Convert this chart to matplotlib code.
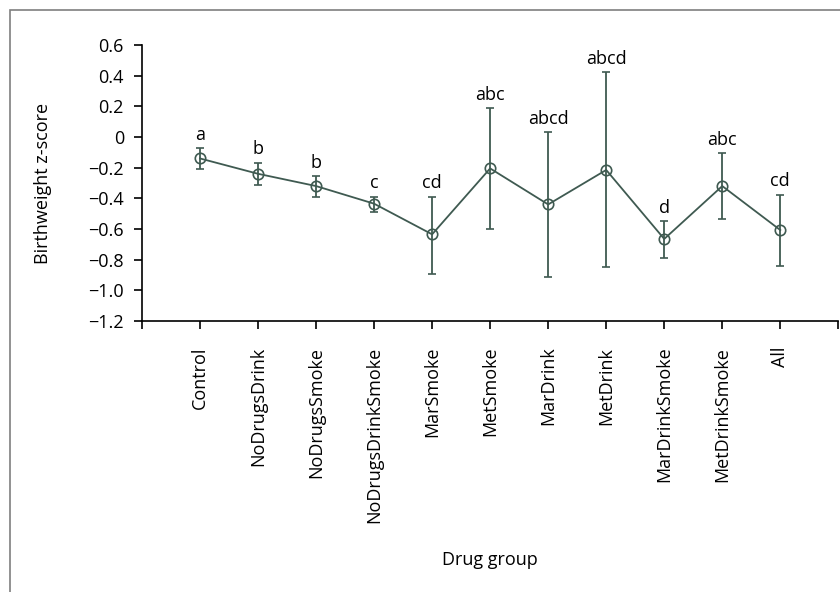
import matplotlib.pyplot as plt
from matplotlib.patches import Rectangle

plt.rcParams['font.family'] = ['Open Sans', 'DejaVu Sans']

# Data
groups = ["Control", "NoDrugsDrink", "NoDrugsSmoke", "NoDrugsDrinkSmoke",
          "MarSmoke", "MetSmoke", "MarDrink", "MetDrink",
          "MarDrinkSmoke", "MetDrinkSmoke", "All"]
means = [-0.14, -0.24, -0.32, -0.435, -0.635, -0.205, -0.44, -0.215, -0.665, -0.32, -0.607]
upper = [-0.07, -0.167, -0.254, -0.389, -0.389, 0.187, 0.033, 0.422, -0.548, -0.104, -0.376]
lower = [-0.209, -0.313, -0.393, -0.487, -0.894, -0.60, -0.913, -0.846, -0.787, -0.533, -0.841]
letters = ["a", "b", "b", "c", "cd", "abc", "abcd", "abcd", "d", "abc", "cd"]
yticks = [-1.2, -1.0, -0.8, -0.6, -0.4, -0.2, 0, 0.2, 0.4, 0.6]
ytick_labels = ["\u22121.2", "\u22121.0", "\u22120.8", "\u22120.6", "\u22120.4",
                "\u22120.2", "0", "0.2", "0.4", "0.6"]

color = "#3f5a51"

fig = plt.figure(figsize=(8.4, 5.92), dpi=100)
ax = fig.add_axes([0.169, 0.4578, 0.829, 0.4662])

x = list(range(len(groups)))
err_lo = [m - l for m, l in zip(means, lower)]
err_hi = [u - m for m, u in zip(means, upper)]

ax.errorbar(x, means, yerr=[err_lo, err_hi], color=color, linewidth=1.3,
            marker="o", markersize=7.5, markerfacecolor="none",
            markeredgecolor=color, markeredgewidth=1.2,
            ecolor=color, elinewidth=1.3, capsize=3, capthick=1.3)

for xi, u, lab in zip(x, upper, letters):
    ax.annotate(lab, (xi, u), xytext=(0, 3), textcoords="offset points",
                ha="center", va="bottom", fontsize=13)

ax.set_xlim(-1, 11)
ax.set_ylim(-1.2, 0.6)
ax.set_yticks(yticks)
ax.set_yticklabels(ytick_labels)
ax.set_xticks(list(range(-1, 12)))
ax.set_xticklabels([""] + groups + [""], rotation=90)

ax.spines["top"].set_visible(False)
ax.spines["right"].set_visible(False)
ax.spines["left"].set_linewidth(1.2)
ax.spines["bottom"].set_linewidth(1.2)
ax.tick_params(axis="y", direction="out", length=6, width=1.2, pad=7, labelsize=13)
ax.tick_params(axis="x", direction="out", length=5.5, width=1.2, pad=13, labelsize=13)

ax.set_ylabel("Birthweight z-score", fontsize=13)
ax.yaxis.set_label_coords(-0.129, 0.5)
ax.set_xlabel("Drug group", fontsize=13)
ax.xaxis.set_label_coords(0.5, -0.835)

# outer frame
fig.patches.append(Rectangle((10 / 840, -0.1), 1.2, 1 - 10 / 592 + 0.1,
                             transform=fig.transFigure, fill=False,
                             edgecolor="#7f7f7f", linewidth=1.2))

plt.savefig("out.png", dpi=100)
